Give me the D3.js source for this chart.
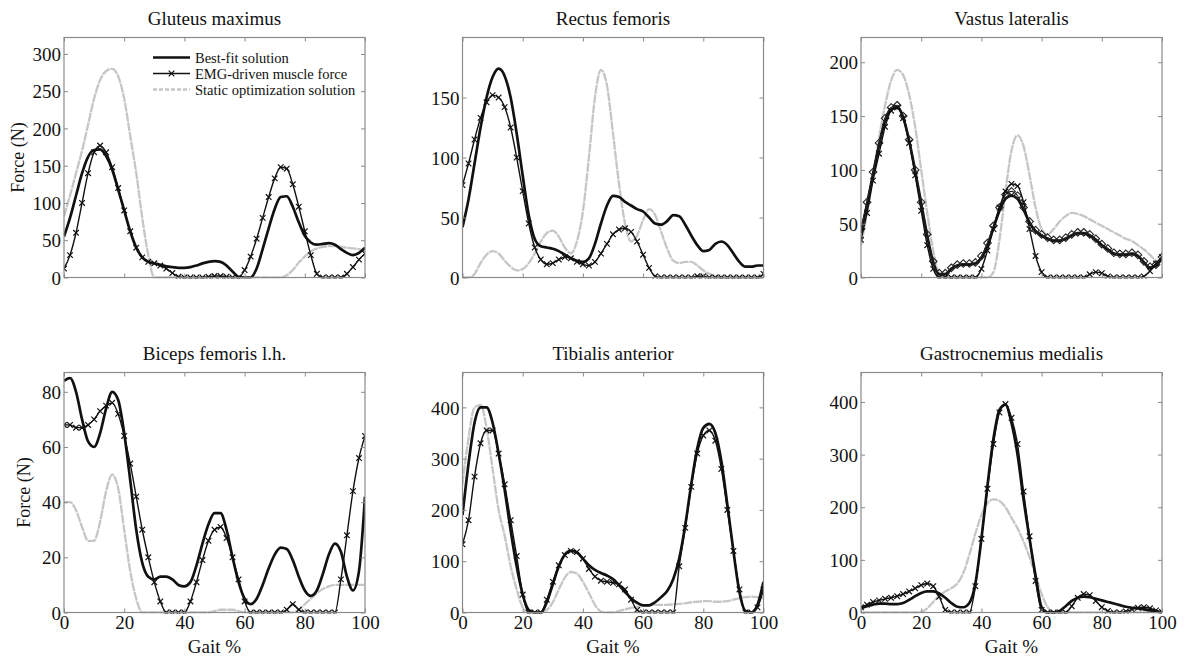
<!DOCTYPE html>
<html>
<head>
<meta charset="utf-8">
<script src="https://cdn.jsdelivr.net/npm/d3@7"></script>
<style>
  body { margin: 0; background: #fff; }
  svg text { font-family: "Liberation Serif", "Times New Roman", serif; fill: #111; }
</style>
</head>
<body>
<div id="chart"></div>
<script>
// Muscle forces over the gait cycle, 6 muscles

// gait % sample points
const gait = [0,2,4,6,8,10,12,14,16,18,20,22,24,26,28,30,32,34,36,38,40,42,44,46,48,50,
              52,54,56,58,60,62,64,66,68,70,72,74,76,78,80,82,84,86,88,90,92,94,96,98,100];
const xTicks = [0, 20, 40, 60, 80, 100];

// Gluteus maximus
const glutBest = [55,80,110,140,162,171,172,163,145,118,90,62,40,27,21,19,17,15,14,13,13,14,16,19,21,22,
                  21,16,8,1,0,0,12,38,66,92,108,109,95,74,56,47,44,45,46,44,38,33,30,33,40];
const glutEmg  = [12,30,60,100,140,168,177,168,148,120,90,62,40,27,21,19,16,12,6,1,0,0,0,0,1,2,
                  2,1,0,0,10,28,52,80,108,133,148,146,125,95,62,30,5,0,0,0,0,5,14,24,32];
const glutStat = [82,110,140,170,205,240,265,277,280,270,240,190,140,80,30,0,0,0,0,0,0,0,0,0,0,0,
                  0,0,0,0,0,0,0,0,0,0,0,3,10,20,28,35,39,41,42,42,41,40,39,38,36];
const glutTicks = [0, 50, 100, 150, 200, 250, 300];

// Rectus femoris
const rectBest = [42,65,95,125,150,167,174,168,150,120,85,52,32,26,25,24,22,19,16,14,13,16,28,45,60,68,
                  67,63,60,57,55,50,45,44,47,52,51,44,35,27,22,23,28,30,27,20,13,9,9,10,10];
const rectEmg  = [77,95,115,133,146,152,150,142,125,100,72,45,25,15,11,12,15,17,16,13,11,10,13,20,28,36,
                  40,41,38,30,19,8,1,0,0,0,0,0,0,1,1,0,0,0,0,0,0,0,0,0,3];
const rectStat = [0,0,3,12,19,22,20,14,9,6,7,12,20,30,37,39,34,25,20,30,55,100,150,173,160,120,
                  78,45,30,35,48,57,52,38,24,14,12,13,13,10,6,3,1,0,0,0,0,0,0,0,0];
const rectTicks = [0, 50, 100, 150];

// Vastus lateralis (has an extra diamond-marked trace)
const vastBest = [42,68,96,123,146,156,158,149,127,99,69,39,14,3,3,8,11,12,12,13,18,30,46,62,73,76,
                  73,63,51,43,39,36,34,34,36,39,41,41,39,35,30,26,22,21,21,22,20,14,9,11,18];
const vastEmg  = [35,60,90,115,140,155,158,148,125,95,62,30,8,0,0,0,0,0,0,0,8,25,45,65,80,87,
                  85,70,45,20,5,0,0,0,0,0,0,0,3,5,4,1,0,0,0,0,0,1,6,13,19];
const vastDiam = [45,70,98,125,148,158,160,150,128,100,70,40,15,4,4,9,12,13,13,14,20,32,48,65,77,80,
                  76,65,52,44,40,37,35,35,37,40,42,42,40,36,31,27,23,22,22,23,21,15,10,12,19];
const vastStat = [30,60,95,130,160,183,193,188,170,140,100,60,25,3,0,0,0,0,0,0,0,0,5,35,80,118,
                  132,122,95,65,45,40,45,52,57,60,59,57,54,51,48,45,42,39,36,34,30,26,21,16,15];
const vastTicks = [0, 50, 100, 150, 200];

// Biceps femoris l.h.
const bicBest = [84,85,80,70,62,60,65,74,80,77,65,48,30,18,13,12,13,13,12,10,9.5,11,17,25,32,36,
                 36,30,20,11,5,3,5,10,16,21,23.5,23,19,13,8,6,8,14,21,25,22,13,8,15,42];
const bicEmg  = [68,68,67,67,68,70,73,75,76,72,64,54,42,30,20,11,4,0,0,0,0,4,11,19,26,30,
                 31,27,20,12,4,0,0,0,0,0,0,1,3,1,0,0,0,0,0,0,12,28,44,56,64];
const bicStat = [40,40,37,31,26,26,33,44,50,45,30,15,5,0,0,0,0,0,0,0,0,0,0,0,0,0.5,
                 1,1,1,0.5,0,0,0,0,0,0,0,0,0,1,3,5,7,8.5,9.5,10,10,10,10,10,10];
const bicTicks = [0, 20, 40, 60, 80];

// Tibialis anterior
const tibBest = [190,290,370,400,400,370,310,240,160,90,35,5,0,0,20,55,90,113,120,117,105,92,83,77,72,65,
                 53,40,28,19,14,14,20,30,42,65,105,170,250,320,360,368,350,295,210,120,40,3,0,15,60];
const tibEmg  = [133,180,265,330,355,355,310,250,180,110,35,0,0,0,25,60,92,112,120,118,105,85,70,62,60,58,
                 55,45,25,5,0,0,0,0,0,0,90,165,245,310,345,355,335,280,200,120,45,0,0,10,45];
const tibStat = [250,340,400,405,360,280,200,150,90,45,10,0,0,0,5,20,45,68,79,76,60,38,15,2,0,0,
                 3,6,9,11,13,14,15,15,15,16,17,18,20,21,22,22,21,21,22,25,28,30,31,30,28];
const tibTicks = [0, 100, 200, 300, 400];

// Gastrocnemius medialis
const gasBest = [8,12,15,17,17,16,16,18,24,31,37,40,40,36,28,18,11,10,18,55,140,240,330,385,395,360,
                 300,215,140,70,10,0,0,3,12,22,28,30,29,26,23,20,17,14,11,9,8,6,4,2,0];
const gasEmg  = [10,15,20,23,26,28,31,35,40,46,52,55,50,30,5,0,0,0,0,50,140,235,320,380,396,370,
                 320,230,145,60,5,0,0,0,0,12,28,35,33,22,10,3,0,0,2,6,9,10,8,4,1];
const gasStat = [0,0,0,0,0,0,0,0,0,0,1,8,20,32,40,46,55,75,110,150,185,208,215,212,200,180,
                 160,135,105,70,35,10,0,0,0,0,0,0,0,0,0,0,0,0,0,0,0,0,0,0,0];
const gasTicks = [0, 100, 200, 300, 400];

const legendLabels = ["Best-fit solution", "EMG-driven muscle force", "Static optimization solution"];

// panel table built from the arrays above
const panels = [
  {title: "Gluteus maximus", best: glutBest, emg: glutEmg, stat: glutStat, ymax: 322, ticks: glutTicks,
   row: 0, col: 0, ylabelX: 24, legend: true},
  {title: "Rectus femoris", best: rectBest, emg: rectEmg, stat: rectStat, ymax: 200, ticks: rectTicks,
   row: 0, col: 1},
  {title: "Vastus lateralis", best: vastBest, emg: vastEmg, stat: vastStat, diam: vastDiam, ymax: 223, ticks: vastTicks,
   row: 0, col: 2},
  {title: "Biceps femoris l.h.", best: bicBest, emg: bicEmg, stat: bicStat, ymax: 87, ticks: bicTicks,
   row: 1, col: 0, ylabelX: 30},
  {title: "Tibialis anterior", best: tibBest, emg: tibEmg, stat: tibStat, ymax: 468, ticks: tibTicks,
   row: 1, col: 1},
  {title: "Gastrocnemius medialis", best: gasBest, emg: gasEmg, stat: gasStat, ymax: 456, ticks: gasTicks,
   row: 1, col: 2}
];

const W = 1186, H = 664;
const colLeft = [64, 462.5, 861];
const boxW = 301;
const rowTop = [37.5, 372.5];
const boxH = 240;

const svg = d3.select("#chart").append("svg")
    .attr("width", W)
    .attr("height", H);

const xMark = "M-2.8,-2.8L2.8,2.8M-2.8,2.8L2.8,-2.8";
const diamond = "M0,-3.8L3.8,0L0,3.8L-3.8,0Z";
const statColor = "#c6c6c6";

panels.forEach((p, i) => {
    const g = svg.append("g")
        .attr("transform", `translate(${colLeft[p.col]},${rowTop[p.row]})`);

    const x = d3.scaleLinear().domain([0, 100]).range([0, boxW]);
    const y = d3.scaleLinear().domain([0, p.ymax]).range([boxH, 0]);

    const line = d3.line()
        .x((d, j) => x(gait[j]))
        .y(d => y(d))
        .curve(d3.curveMonotoneX);

    g.append("clipPath").attr("id", "clip" + i)
        .append("rect").attr("width", boxW).attr("height", boxH + 1);

    const plot = g.append("g").attr("clip-path", `url(#clip${i})`);

    // static optimization (light grey, fine dashes)
    plot.append("path")
        .attr("d", line(p.stat))
        .attr("fill", "none")
        .attr("stroke", statColor)
        .attr("stroke-width", 2.3)
        .attr("stroke-dasharray", "9,0.8");

    // best fit (thick black)
    plot.append("path")
        .attr("d", line(p.best))
        .attr("fill", "none")
        .attr("stroke", "#111")
        .attr("stroke-width", 2.7);

    // diamond trace (vastus only)
    if (p.diam) {
        plot.append("path")
            .attr("d", line(p.diam))
            .attr("fill", "none")
            .attr("stroke", "#222")
            .attr("stroke-width", 1.1);
        plot.selectAll(".dm")
            .data(p.diam)
            .enter()
            .append("path")
            .attr("class", "dm")
            .attr("transform", (d, j) => `translate(${x(gait[j])},${y(d)})`)
            .attr("d", diamond)
            .attr("fill", "none")
            .attr("stroke", "#222")
            .attr("stroke-width", 1.1);
    }

    // EMG-driven (thin with x markers)
    plot.append("path")
        .attr("d", line(p.emg))
        .attr("fill", "none")
        .attr("stroke", "#111")
        .attr("stroke-width", 1.4);
    plot.selectAll(".xm")
        .data(p.emg)
        .enter()
        .append("path")
        .attr("class", "xm")
        .attr("transform", (d, j) => `translate(${x(gait[j])},${y(d)})`)
        .attr("d", xMark)
        .attr("fill", "none")
        .attr("stroke", "#111")
        .attr("stroke-width", 1.2);

    // box
    g.append("rect")
        .attr("width", boxW)
        .attr("height", boxH)
        .attr("fill", "none")
        .attr("stroke", "#8a8a8a")
        .attr("stroke-width", 1.2);

    // axes, ticks pointing inward
    const yAxis = g.append("g")
        .call(d3.axisLeft(y).tickValues(p.ticks).tickSize(-4).tickPadding(3));
    yAxis.selectAll("text").style("font-size", "19px").attr("dy", "0.35em");

    g.append("g")
        .attr("transform", `translate(${boxW},0)`)
        .call(d3.axisRight(y).tickValues(p.ticks).tickSize(-4).tickFormat(""));

    const xAxis = g.append("g")
        .attr("transform", `translate(0,${boxH})`)
        .call(d3.axisBottom(x).tickValues(xTicks).tickSize(-4).tickPadding(3)
              .tickFormat(p.row === 1 ? d3.format("d") : ""));
    xAxis.selectAll("text").style("font-size", "19px");

    g.append("g")
        .call(d3.axisTop(x).tickValues(xTicks).tickSize(-4).tickFormat(""));

    g.selectAll(".domain").remove();
    g.selectAll(".tick line").attr("stroke", "#8a8a8a");
    g.selectAll(".tick text").attr("fill", "#111").style("font-family", "'Liberation Serif', serif");

    // title
    g.append("text")
        .attr("x", boxW / 2)
        .attr("y", -13)
        .attr("text-anchor", "middle")
        .style("font-size", "19px")
        .text(p.title);

    if (p.row === 1) {
        g.append("text")
            .attr("x", boxW / 2)
            .attr("y", boxH + 40)
            .attr("text-anchor", "middle")
            .style("font-size", "19px")
            .text("Gait %");
    }

    if (p.ylabelX) {
        g.append("text")
            .attr("transform", `translate(${p.ylabelX - colLeft[p.col]},${boxH / 2}) rotate(-90)`)
            .attr("text-anchor", "middle")
            .style("font-size", "18px")
            .text("Force (N)");
    }

    if (p.legend) {
        const lg = g.append("g").attr("transform", "translate(89,20)");
        const styles = [
            {stroke: "#111", width: 2.7, dash: null, mark: false},
            {stroke: "#111", width: 1.4, dash: null, mark: true},
            {stroke: statColor, width: 2.3, dash: "4,2", mark: false}
        ];
        legendLabels.forEach((lab, k) => {
            const row = lg.append("g").attr("transform", `translate(0,${k * 16})`);
            row.append("line")
                .attr("x1", 0).attr("x2", 37)
                .attr("stroke", styles[k].stroke)
                .attr("stroke-width", styles[k].width)
                .attr("stroke-dasharray", styles[k].dash);
            if (styles[k].mark) {
                row.append("path")
                    .attr("transform", "translate(18.5,0)")
                    .attr("d", xMark)
                    .attr("stroke", "#111")
                    .attr("stroke-width", 1.2);
            }
            row.append("text")
                .attr("x", 42)
                .attr("dy", "0.35em")
                .style("font-size", "14.5px")
                .text(lab);
        });
    }
});
</script>
</body>
</html>
